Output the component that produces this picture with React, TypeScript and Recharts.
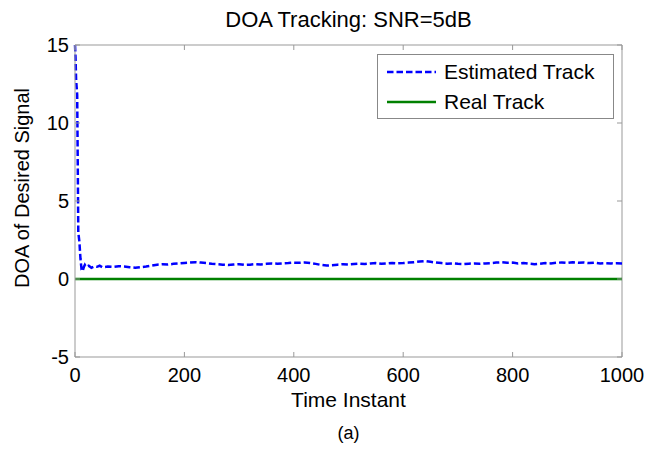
import React from 'react';
import { LineChart, Line, XAxis, YAxis, ReferenceLine } from 'recharts';

const timeSteps = [
  0, 1, 2, 3, 4, 5, 6, 7, 8, 10, 12, 14, 16, 18, 20, 25, 30, 35, 40, 45, 50,
  60, 70, 80, 90, 100, 110, 120, 130, 140, 150, 160, 170, 180, 190, 200, 210,
  220, 230, 240, 250, 260, 270, 280, 290, 300, 310, 320, 330, 340, 350, 360,
  370, 380, 390, 400, 410, 420, 430, 440, 450, 460, 470, 480, 490, 500, 510,
  520, 530, 540, 550, 560, 570, 580, 590, 600, 610, 620, 630, 640, 650, 660,
  670, 680, 690, 700, 710, 720, 730, 740, 750, 760, 770, 780, 790, 800, 810,
  820, 830, 840, 850, 860, 870, 880, 890, 900, 910, 920, 930, 940, 950, 960,
  970, 980, 990, 1000,
];

const estimatedTrack = [
  15, 14.2, 12.8, 12.3, 11.8, 7.5, 3.0, 2.7, 2.4, 1.3, 0.6, 0.5, 0.75, 0.9, 0.78, 0.85, 0.72, 0.8, 0.78, 0.85, 0.75,
  0.8, 0.78, 0.82, 0.8, 0.75, 0.72, 0.76, 0.8, 0.86, 0.92, 0.95, 0.93, 0.97, 1.0, 1.03, 1.05,
  1.08, 1.05, 1.02, 0.98, 0.95, 0.92, 0.9, 0.93, 0.95, 0.9, 0.92, 0.95, 0.93, 0.97, 1.0,
  0.98, 1.0, 1.02, 1.05, 1.04, 1.06, 1.02, 0.97, 0.9, 0.86, 0.88, 0.92, 0.95, 0.93, 0.96,
  0.98, 0.96, 1.0, 1.02, 0.98, 1.0, 1.03, 1.0, 1.02, 1.05, 1.08, 1.12, 1.15, 1.1, 1.05,
  1.02, 0.98, 1.0, 0.97, 0.95, 0.98, 1.0, 0.97, 1.0, 1.02, 1.05, 1.07, 1.04, 1.05, 1.0,
  1.03, 0.98, 0.95, 0.98, 1.02, 1.0, 1.04, 1.06, 1.03, 1.07, 1.04, 1.06, 1.02, 1.05, 1.0,
  1.02, 1.0, 1.01, 1.0,
];

const realTrack = timeSteps.map(() => 0);

const xTicks = [0, 200, 400, 600, 800, 1000];
const yTicks = [-5, 0, 5, 10, 15];

const data = timeSteps.map((t, i) => ({ t, est: estimatedTrack[i], real: realTrack[i] }));

const FONT = '"Liberation Sans", Arial, sans-serif';
const PLOT_TOP = 45;
const PLOT_BOTTOM = 357;
const PLOT_LEFT = 75;
const PLOT_RIGHT = 622;
const FRAME = '#999';
const TICK_FONT = 20;

const XTick = (props: any) => {
  const { x, payload } = props;
  return (
    <g>
      <line x1={x} x2={x} y1={PLOT_BOTTOM} y2={PLOT_BOTTOM - 5} stroke={FRAME} />
      <line x1={x} x2={x} y1={PLOT_TOP} y2={PLOT_TOP + 5} stroke={FRAME} />
      <text x={x} y={PLOT_BOTTOM + 25} textAnchor="middle" fontSize={TICK_FONT} fill="#000" fontFamily={FONT}>
        {payload.value}
      </text>
    </g>
  );
};

const YTick = (props: any) => {
  const { y, payload } = props;
  return (
    <g>
      <line x1={PLOT_LEFT} x2={PLOT_LEFT + 5} y1={y} y2={y} stroke={FRAME} />
      <line x1={PLOT_RIGHT} x2={PLOT_RIGHT - 5} y1={y} y2={y} stroke={FRAME} />
      <text x={PLOT_LEFT - 6} y={y + 7} textAnchor="end" fontSize={TICK_FONT} fill="#000" fontFamily={FONT}>
        {payload.value}
      </text>
    </g>
  );
};

const LegendBox = () => (
  <div
    style={{
      position: 'absolute',
      left: 377,
      top: 54,
      width: 237,
      height: 65,
      border: '1px solid #888',
      background: '#fff',
      fontFamily: FONT,
      fontSize: 21,
      boxSizing: 'border-box',
    }}
  >
    <svg width={60} height={63} style={{ position: 'absolute', left: 9, top: 0 }}>
      <line x1={0} x2={49} y1={17} y2={17} stroke="#0000FF" strokeWidth={2.5} strokeDasharray="6.5 3" />
      <line x1={0} x2={49} y1={47} y2={47} stroke="#008000" strokeWidth={2.5} />
    </svg>
    <div style={{ position: 'absolute', left: 66, top: 5, lineHeight: '24px' }}>Estimated Track</div>
    <div style={{ position: 'absolute', left: 66, top: 35, lineHeight: '24px' }}>Real Track</div>
  </div>
);

export default function App() {
  return (
    <div style={{ position: 'absolute', left: 0, top: 0, width: 658, height: 450, background: '#fff', fontFamily: FONT }}>
      <div style={{ position: 'absolute', left: PLOT_LEFT, width: PLOT_RIGHT - PLOT_LEFT, top: 7, textAlign: 'center', fontSize: 22, lineHeight: '26px' }}>
        DOA Tracking: SNR=5dB
      </div>
      <LineChart
        width={658}
        height={450}
        data={data}
        margin={{ top: PLOT_TOP, right: 658 - PLOT_RIGHT, bottom: 450 - PLOT_BOTTOM - 30, left: PLOT_LEFT - 40 }}
      >
        <XAxis
          dataKey="t"
          type="number"
          domain={[0, 1000]}
          ticks={xTicks}
          height={30}
          tickLine={false}
          axisLine={{ stroke: FRAME }}
          tick={<XTick />}
          interval={0}
        />
        <YAxis
          type="number"
          domain={[-5, 15]}
          ticks={yTicks}
          width={40}
          tickLine={false}
          axisLine={{ stroke: FRAME }}
          tick={<YTick />}
          interval={0}
          allowDataOverflow
        />
        <ReferenceLine y={15} stroke={FRAME} />
        <ReferenceLine x={1000} stroke={FRAME} />
        <Line
          type="linear"
          dataKey="real"
          stroke="#008000"
          strokeWidth={2.5}
          dot={false}
          isAnimationActive={false}
        />
        <Line
          type="linear"
          dataKey="est"
          stroke="#0000FF"
          strokeWidth={2.5}
          strokeDasharray="6.5 3"
          dot={false}
          isAnimationActive={false}
        />
      </LineChart>
      <LegendBox />
      <div
        style={{
          position: 'absolute',
          left: 22,
          top: (PLOT_TOP + PLOT_BOTTOM) / 2 - 13,
          transform: 'translate(-50%, -50%) rotate(-90deg)',
          whiteSpace: 'nowrap',
          fontSize: 20,
        }}
      >
        DOA of Desired Signal
      </div>
      <div style={{ position: 'absolute', left: PLOT_LEFT, width: PLOT_RIGHT - PLOT_LEFT, top: 387, textAlign: 'center', fontSize: 21, lineHeight: '26px' }}>
        Time Instant
      </div>
      <div style={{ position: 'absolute', left: PLOT_LEFT, width: PLOT_RIGHT - PLOT_LEFT, top: 421, textAlign: 'center', fontSize: 18, lineHeight: '24px' }}>
        (a)
      </div>
    </div>
  );
}
